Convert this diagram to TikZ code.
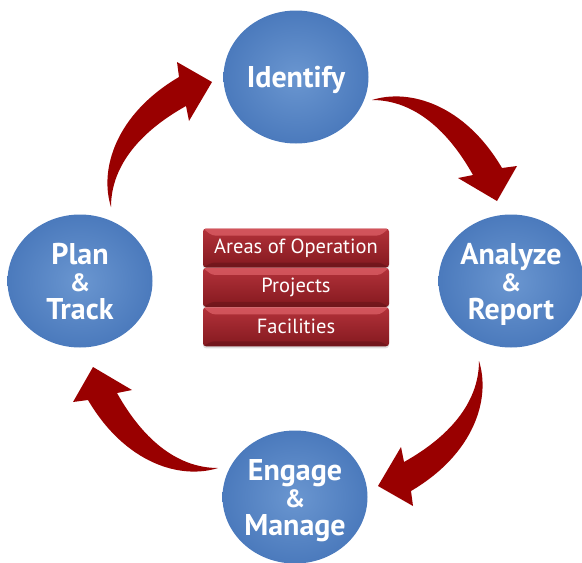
\documentclass[tikz,border=0pt]{standalone}
\usepackage{fontspec}
\setmainfont{PT Sans}
\usetikzlibrary{shapes.geometric,positioning,shadows}

\definecolor{ballin}{HTML}{6A96D0}
\definecolor{ballout}{HTML}{2C5EA9}
\definecolor{cyclered}{HTML}{990000}
\definecolor{paneltop}{HTML}{B3323A}
\definecolor{panelbot}{HTML}{84191F}
\definecolor{panelrim}{HTML}{E0636A}

% soft blue ball, light in the middle and darker to the rim
\pgfdeclareradialshading{ballshade}{\pgfpoint{0bp}{0bp}}{color(0bp)=(ballin); color(50bp)=(ballout); color(72bp)=(ballout)}

% the small ampersand between two words of a ball
\newcommand{\amp}{{\fontsize{25}{27.5}\selectfont\&}}

\begin{document}
\begin{tikzpicture}[x=1pt,y=-1pt,
    ball/.style={ellipse,minimum width=145pt,minimum height=133pt,inner sep=0pt,
      shading=ballshade,text=white,align=center,text depth=0pt,
      font=\bfseries\fontsize{30}{27.5}\selectfont},
    panel/.style={rectangle,rounded corners=3pt,minimum width=186pt,minimum height=39pt,
      top color=paneltop,bottom color=panelbot,text=white,
      font=\fontsize{20.5}{22}\selectfont,
      drop shadow={opacity=0.25,shadow xshift=0pt,shadow yshift=-2pt},
      path picture={
        \fill[panelrim,opacity=0.7] (path picture bounding box.north west) -- (path picture bounding box.north east)
          -- ([xshift=-9pt,yshift=-7pt]path picture bounding box.north east) -- ([xshift=9pt,yshift=-7pt]path picture bounding box.north west) -- cycle;
        \fill[black,opacity=0.15] (path picture bounding box.south west) -- (path picture bounding box.south east)
          -- ([xshift=-9pt,yshift=5pt]path picture bounding box.south east) -- ([xshift=9pt,yshift=5pt]path picture bounding box.south west) -- cycle;
      }}]
        \useasboundingbox (0,0) rectangle (582,563);
        \coordinate (hub) at (295,284);

        % the four bent arrows, one shape turned round the hub
        \foreach \ang in {0,-90,-180,-270}
          \fill[cyclered,rotate around={\ang:(hub)}] (372,100) .. controls (410,88) and (465,105) .. (502,168)
            -- (517,166) -- (497,201) -- (458,178) -- (473,175)
            .. controls (445,125) and (410,100) .. (372,100) -- cycle;

        \node[ball] (identify) at (296,77) {Identify};
        \node[ball] (analyze) at (511,281) {Analyze\\\amp\\Report};
        \node[ball] (engage) at (295,497) {Engage\\\amp\\Manage};
        \node[ball] (plan) at (80,281) {Plan\\\amp\\Track};

        % stack in the middle
        \node[panel] (areas) at (296,248) {Areas of Operation};
        \node[panel,below=0pt of areas] (projects) {Projects};
        \node[panel,below=0pt of projects] (facilities) {Facilities};
      \end{tikzpicture}
\end{document}
